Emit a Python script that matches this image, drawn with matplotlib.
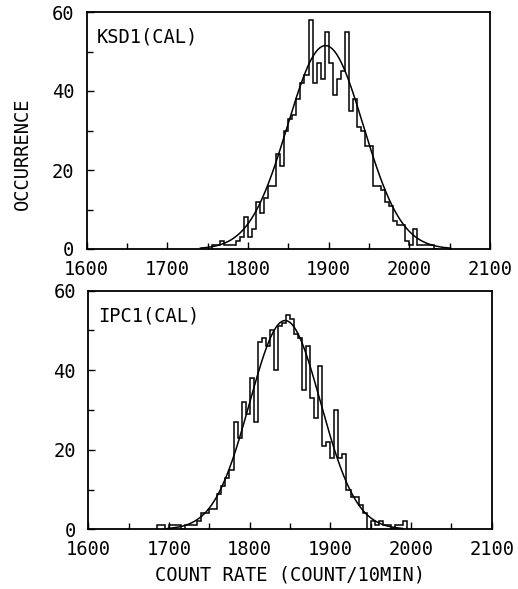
import numpy as np
import matplotlib
matplotlib.use("Agg")
import matplotlib.pyplot as plt
from matplotlib.ticker import MultipleLocator

# histogram data, 5-unit bins (left edges start at *_start)
bin_width = 5

ksd1_start = 1755
ksd1_counts = [1, 1, 2, 1, 1, 1, 2, 3, 8, 3,
               5, 12, 9, 13, 16, 16, 24, 21, 30, 33,
               34, 38, 42, 44, 58, 42, 47, 43, 55, 47,
               39, 43, 45, 55, 35, 38, 31, 30, 26, 26,
               16, 16, 15, 12, 11, 7, 6, 6, 2, 1,
               5, 1, 1, 1, 1, 0]

ipc1_start = 1685
ipc1_counts = [1, 1, 0, 1, 1, 1, 0, 1, 1, 1,
               2, 4, 4, 5, 5, 9, 11, 13, 15, 27,
               23, 32, 29, 38, 27, 47, 48, 46, 50, 40,
               51, 52, 54, 53, 49, 48, 35, 46, 33, 28,
               41, 21, 22, 18, 30, 18, 19, 10, 8, 8,
               6, 4, 0, 2, 1, 2, 1, 1, 0, 1,
               1, 2]

# gaussian fit parameters (mean, sigma, peak height)
ksd1_fit = (1896, 47, 51.5)
ipc1_fit = (1844, 44, 52.5)

panel_labels = ["KSD1(CAL)", "IPC1(CAL)"]
x_ticks = [1600, 1700, 1800, 1900, 2000, 2100]
y_ticks = [0, 20, 40, 60]

plt.rcParams['font.family'] = ['DejaVu Sans Mono']
plt.rcParams['font.size'] = 13.5

W, H = 518, 589
fig = plt.figure(figsize=(W / 100, H / 100), dpi=100)

ax_top = fig.add_axes([86.7 / W, 1 - 249 / H, (490 - 86.7) / W, (249 - 12) / H])
ax_bot = fig.add_axes([88.3 / W, 1 - 529.3 / H, (491.7 - 88.3) / W, (529.3 - 290.7) / H])

panels = [
    (ax_top, ksd1_start, ksd1_counts, ksd1_fit, panel_labels[0]),
    (ax_bot, ipc1_start, ipc1_counts, ipc1_fit, panel_labels[1]),
]

for ax, start, counts, fit, label in panels:
    counts = np.array(counts)
    edges = start + bin_width * np.arange(len(counts) + 1)
    ax.stairs(counts, edges, color='black', linewidth=1.1)

    mu, sig, peak = fit
    xs = np.linspace(mu - 3.3 * sig, mu + 3.3 * sig, 300)
    ax.plot(xs, peak * np.exp(-(xs - mu) ** 2 / (2 * sig ** 2)), color='black', linewidth=1.1)

    ax.set_xlim(1600, 2100)
    ax.set_ylim(0, 60)
    ax.set_xticks(x_ticks)
    ax.set_yticks(y_ticks)
    ax.xaxis.set_minor_locator(MultipleLocator(50))
    ax.yaxis.set_minor_locator(MultipleLocator(10))
    ax.tick_params(which='both', direction='in', top=False, right=False)
    ax.tick_params(which='major', length=5, width=1.0)
    ax.tick_params(which='minor', length=4, width=1.0)
    ax.tick_params(axis='x', pad=8)
    ax.tick_params(axis='y', pad=9)
    for sp in ax.spines.values():
        sp.set_linewidth(1.3)
    ax.text(0.025, 0.935, label, transform=ax.transAxes, ha='left', va='top')

fig.text(22 / W, 1 - 154 / H, "OCCURRENCE", rotation=90, ha='center', va='center')
fig.text(290 / W, 1 - 575 / H, "COUNT RATE (COUNT/10MIN)", ha='center', va='center')

fig.savefig("out.png", dpi=100)
